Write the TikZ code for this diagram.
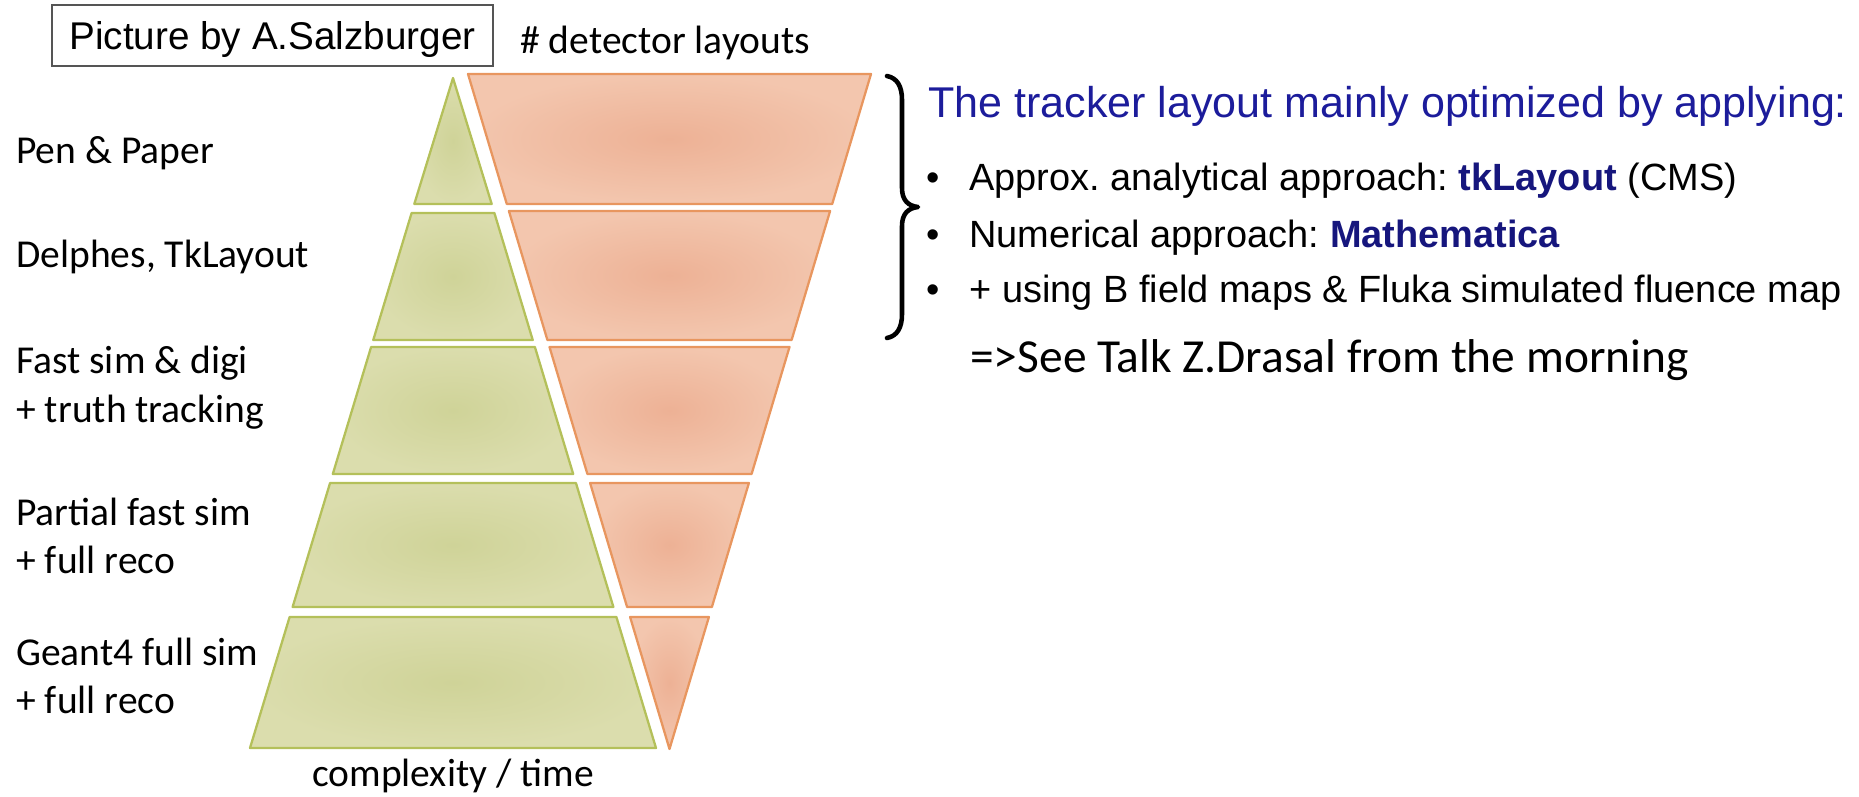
\documentclass[tikz,border=0pt]{standalone}
\usepackage{fontspec}
\setmainfont{Carlito}
\newfontfamily\arial{Liberation Sans}
\frenchspacing
\definecolor{gfill}{RGB}{219,221,173}
\definecolor{gin}{RGB}{207,211,152}
\definecolor{gline}{RGB}{180,192,90}
\definecolor{ofill}{RGB}{243,198,174}
\definecolor{oin}{RGB}{237,177,149}
\definecolor{oline}{RGB}{232,150,95}
\definecolor{ttl}{RGB}{28,28,155}
\definecolor{bld}{RGB}{22,22,125}
\definecolor{boxline}{RGB}{85,85,85}
\begin{document}
\begin{tikzpicture}[x=0.02cm, y=-0.02cm,
  gtier/.style={draw=gline, line width=1.3pt, line join=round, inner color=gin, outer color=gfill},
  otier/.style={draw=oline, line width=1.3pt, line join=round, inner color=oin, outer color=ofill},
  lbl/.style={inner sep=0pt, anchor=base west, font=\fontsize{22.5pt}{27pt}\selectfont},
  arialtxt/.style={inner sep=0pt, anchor=base west, font=\arial\fontsize{21.6pt}{26pt}\selectfont},
  bul/.style={inner sep=0pt, anchor=base, font=\arial\fontsize{21.6pt}{26pt}\selectfont}]
\useasboundingbox (0,0) rectangle (1859,796);

% green pyramid
\path[gtier] (453,78) -- (491.7,204) -- (414.3,204) -- cycle;
\path[gtier] (411.6,213) -- (494.4,213) -- (532.75,340) -- (373.25,340) -- cycle;
\path[gtier] (371.1,347) -- (534.9,347) -- (573.2,474) -- (332.8,474) -- cycle;
\path[gtier] (330.05,483) -- (575.95,483) -- (613.4,607) -- (292.6,607) -- cycle;
\path[gtier] (289.6,617) -- (616.4,617) -- (656,748) -- (250,748) -- cycle;

% orange inverted pyramid
\path[otier] (468,74) -- (871,74) -- (832.2,204) -- (506.8,204) -- cycle;
\path[otier] (508.9,211) -- (830.1,211) -- (791.6,340) -- (547.4,340) -- cycle;
\path[otier] (549.5,347) -- (789.5,347) -- (751.6,474) -- (587.4,474) -- cycle;
\path[otier] (590.1,483) -- (748.9,483) -- (711.9,607) -- (627.1,607) -- cycle;
\path[otier] (630.1,617) -- (708.9,617) -- (669.5,749) -- cycle;

% header
\node[draw=boxline, line width=1.1pt, inner sep=0pt, minimum width=8.82cm, minimum height=1.22cm,
      text height=15.7pt, text depth=0pt, font=\arial\fontsize{22pt}{26pt}\selectfont]
      (pic) at (272.5,35.5) {Picture by A.Salzburger};
\node[lbl] (det) at (520,53) {\# detector layouts};

% left labels
\node[lbl] (pen) at (16,163) {Pen \& Paper};
\node[lbl] (del) at (16,267) {Delphes, TkLayout};
\node[lbl] (fast) at (16,373) {Fast sim \& digi};
\node[lbl] (truth) at (16,422) {+ truth tracking};
\node[lbl] (part) at (16,525) {Partial fast sim};
\node[lbl] (reco1) at (16,573) {+ full reco};
\node[lbl] (geant) at (16,665) {Geant4 full sim};
\node[lbl] (reco2) at (16,713) {+ full reco};
\node[lbl, anchor=base] (cplx) at (453,786) {complexity / time};

% brace
\draw[line width=2.6pt, line cap=round, line join=round]
  (887,76) .. controls (897,78) and (902,86) .. (902,100) -- (902,188)
  .. controls (902,200) and (908,206) .. (918,207)
  .. controls (908,208) and (902,214) .. (902,226) -- (902,314)
  .. controls (902,328) and (897,336) .. (887,338);

% right text
\node[inner sep=0pt, anchor=base west, text=ttl, font=\arial\fontsize{24.5pt}{29pt}\selectfont]
  (title) at (928,117) {The tracker layout mainly optimized by applying:};
\node[bul] (b1) at (933,190) {•};
\node[bul] (b2) at (933,247) {•};
\node[bul] (b3) at (933,302) {•};
\node[arialtxt] (t1) at (969,190) {Approx. analytical approach: \textcolor{bld}{\bfseries tkLayout} (CMS)};
\node[arialtxt] (t2) at (969,247) {Numerical approach: \textcolor{bld}{\bfseries Mathematica}};
\node[arialtxt] (t3) at (969,302) {+ using B field maps \& Fluka simulated fluence map};
\node[inner sep=0pt, anchor=base west, font=\fontsize{27pt}{32pt}\selectfont]
  (see) at (970,372) {=>See Talk Z.Drasal from the morning};
\end{tikzpicture}
\end{document}
